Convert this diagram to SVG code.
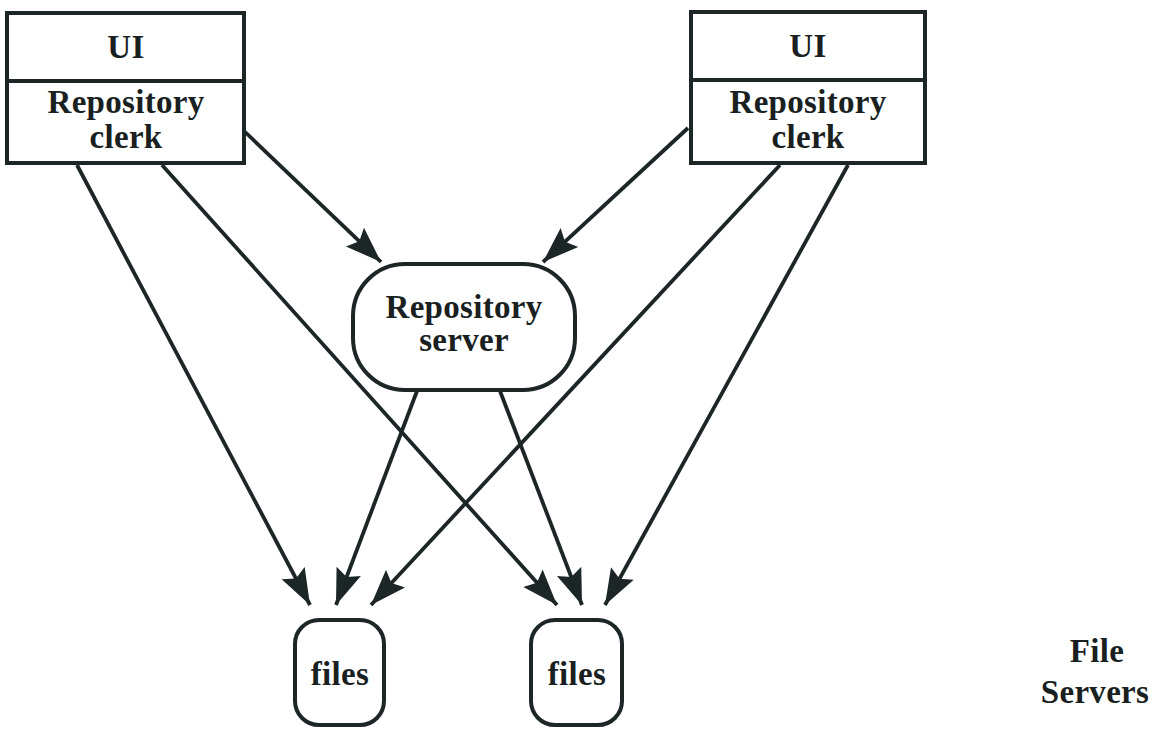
<svg xmlns="http://www.w3.org/2000/svg" width="1164" height="730" viewBox="0 0 1164 730">
  <style>
    .box { fill: #ffffff; stroke: #1c2626; stroke-width: 4; }
    .div { stroke: #1c2626; stroke-width: 4; }
    .lbl { font-family: "Liberation Serif", "Times New Roman", serif; font-weight: bold; font-size: 33px; letter-spacing: 0.3px; fill: #1a1f1f; text-anchor: middle; }
    .edge { stroke: #1c2626; stroke-width: 3.8; fill: none; marker-end: url(#head); }
  </style>
  <defs>
    <marker id="head" markerUnits="userSpaceOnUse" viewBox="-38 -15 40 30" refX="0" refY="0" markerWidth="40" markerHeight="30" orient="auto">
      <path d="M0,0 L-36,-13 L-30,0 L-36,13 Z" fill="#1c2626"/>
    </marker>
  </defs>
  <rect width="1164" height="730" fill="#ffffff"/>

  <g id="connectors">
    <line class="edge" x1="243" y1="130" x2="381" y2="262"/>
    <line class="edge" x1="688" y1="128" x2="543" y2="262"/>
    <line class="edge" x1="77" y1="165" x2="310" y2="605"/>
    <line class="edge" x1="162" y1="165" x2="557" y2="605"/>
    <line class="edge" x1="417" y1="391" x2="336" y2="605"/>
    <line class="edge" x1="500" y1="391" x2="582" y2="605"/>
    <line class="edge" x1="780" y1="165" x2="371" y2="605"/>
    <line class="edge" x1="848" y1="165" x2="605" y2="605"/>
  </g>

  <g id="client-left">
    <rect class="box" x="7" y="13" width="237" height="150"/>
    <line class="div" x1="7" y1="81" x2="244" y2="81"/>
    <text class="lbl" x="126" y="58">UI</text>
    <text class="lbl" x="126" y="113">Repository</text>
    <text class="lbl" x="126" y="148">clerk</text>
  </g>

  <g id="client-right">
    <rect class="box" x="691" y="12" width="234" height="151"/>
    <line class="div" x1="691" y1="80" x2="925" y2="80"/>
    <text class="lbl" x="808" y="57">UI</text>
    <text class="lbl" x="808" y="113">Repository</text>
    <text class="lbl" x="808" y="148">clerk</text>
  </g>

  <g id="repository-server">
    <rect class="box" x="353" y="264" width="222" height="126" rx="52" ry="52"/>
    <text class="lbl" x="464" y="318">Repository</text>
    <text class="lbl" x="464" y="351">server</text>
  </g>

  <g id="files-left">
    <rect class="box" x="295" y="620" width="89" height="105" rx="24" ry="24"/>
    <text class="lbl" x="340" y="685">files</text>
  </g>

  <g id="files-right">
    <rect class="box" x="531" y="620" width="91" height="105" rx="24" ry="24"/>
    <text class="lbl" x="577" y="685">files</text>
  </g>

  <g id="file-servers-label">
    <text class="lbl" x="1097" y="662">File</text>
    <text class="lbl" x="1095" y="703">Servers</text>
  </g>
</svg>
